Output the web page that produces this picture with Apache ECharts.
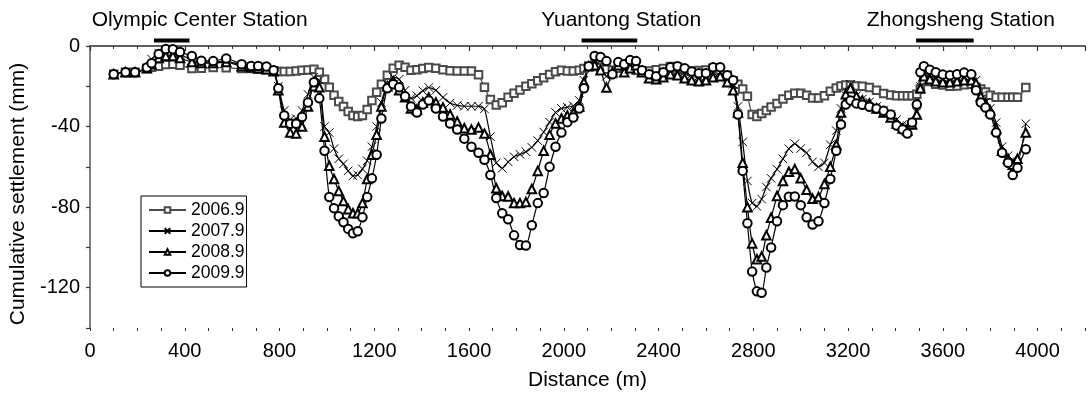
<!DOCTYPE html>
<html>
<head>
<meta charset="utf-8">
<script src="https://cdn.jsdelivr.net/npm/echarts@6/dist/echarts.min.js"></script>
<style>
  html, body { margin: 0; padding: 0; background: #fff; }
  #chart { width: 1088px; height: 396px; }
</style>
</head>
<body>
<div id="chart"></div>
<script>
const distances = [
  100, 150, 190, 240, 260, 290, 320, 350, 380, 430, 470, 520, 575, 640, 680, 710, 745, 775,
  795, 820, 845, 870, 895, 920, 945, 968, 990,
  1010, 1030, 1050, 1070, 1090, 1110, 1130, 1150, 1170, 1190, 1210, 1230, 1255, 1280,
  1305, 1330, 1355, 1380, 1405, 1430, 1460, 1490, 1520, 1550, 1580, 1610, 1640, 1665,
  1690, 1715, 1740, 1765, 1790, 1815, 1840, 1865, 1890, 1915, 1940, 1965, 1990, 2015, 2040, 2065, 2085,
  2105, 2130, 2155, 2180, 2205, 2230, 2255, 2280, 2305, 2330,
  2360, 2390, 2420, 2450, 2480, 2510, 2540, 2570, 2600, 2630, 2660, 2690, 2715,
  2735, 2755, 2775, 2795, 2815, 2835, 2855, 2875, 2900, 2925, 2950, 2975, 3000, 3025, 3050, 3075, 3100, 3125, 3150, 3170, 3190, 3210,
  3235, 3260, 3290, 3320, 3350, 3380, 3405, 3430, 3450, 3470, 3490,
  3505, 3520, 3545, 3570, 3600, 3630, 3660, 3690, 3720, 3740,
  3760, 3780, 3800, 3825, 3850, 3875, 3895, 3915, 3950
];

const s2006 = [
  -14, -13, -13, -11.2, -10.5, -10, -9.2, -9.1, -9.5, -11.2, -11, -10.7, -10.8, -11.2, -11.2, -11.5, -11.8, -12.3,
  -12.7, -12.7, -12.7, -12.4, -12, -11.9, -11.5, -13, -16.5,
  -20.5, -24.5, -27.5, -30, -32.5, -34.5, -35, -34.5, -31.5, -27, -23, -19, -14.5, -11,
  -9.6, -10.6, -12, -11.8, -11.2, -10.7, -11, -11.8, -12.3, -12.4, -12.4, -12.4, -14.3, -20.5,
  -26.5, -29.3, -28.2, -25.5, -23.5, -21.8, -20, -18.8, -17.3, -15.8, -14.2, -12.8, -12, -12.4, -12.4, -12.1, -11.2,
  -10.2, -10, -10.5, -11.5, -12, -11, -10.5, -11, -12, -12.5,
  -12.4, -11.8, -11.2, -10.2, -10.6, -11.8, -12.4, -12.2, -11.9, -11, -12, -14.5, -17.3,
  -19, -21.4, -25, -34, -35, -33.5, -32, -30.3, -28.5, -26.3, -24.5, -23.5, -23.5, -24.5, -25.8, -25.8, -24.7, -22.5, -20.8, -19.8, -19.4, -19.4,
  -19.8, -20, -20.6, -22, -23.6, -24.3, -24.7, -24.7, -24.7, -24.7, -24,
  -21.4, -17.3, -17.6, -19, -19.4, -20, -19.8, -19.2, -19, -20.6,
  -21.4, -22.8, -24.5, -25.5, -25.5, -25.5, -25.5, -25.5, -20.6
];

const s2007 = [
  -14, -13, -13, -11, -6.5, -3.5, -2.6, -3, -4.2, -7, -8, -8, -7.5, -9.5, -10, -10.5, -11, -12,
  -20, -32, -36.5, -36, -32, -24, -15.5, -17, -40,
  -43, -51, -56, -58.5, -62, -64.5, -64, -61, -57, -50, -40, -28, -19, -15.5,
  -16.5, -22, -26, -24.7, -22.2, -20.6, -22, -25.5, -28.3, -29.5, -29.9, -29.9, -29.9, -31.2,
  -45, -58, -60.7, -57.5, -55, -53.8, -52.5, -50.3, -47, -42.7, -37.8, -33, -31, -30.4, -29.7, -27, -17,
  -9.5, -8.5, -10, -15, -14, -9, -10.5, -10, -9, -12,
  -14, -14, -13, -11.5, -12, -13, -14, -15, -15, -13, -13, -16, -19,
  -30, -47.6, -67, -78, -79.6, -76, -70, -65.7, -61.2, -56, -51, -48.5, -50.9, -53, -57.5, -60, -58, -49, -42, -31, -24.5, -19,
  -24.7, -26.3, -27.8, -30, -31.8, -34, -36.5, -39, -39.5, -37.8, -33,
  -20, -14, -15, -15.5, -16, -16, -15.5, -15, -15, -17,
  -24.7, -28, -31, -38, -50, -54.5, -56.5, -57.5, -38.6
];

const s2008 = [
  -14, -13, -13, -11, -9, -6, -5, -5, -6, -8, -8.5, -8.5, -8, -10, -10.5, -11, -11.5, -12.5,
  -22, -38, -43, -43.5, -40, -30, -20, -20.5, -45,
  -59.5, -66, -72, -77, -81, -83, -83, -78, -66, -54, -44, -30, -20, -17.5,
  -22, -25.5, -31, -31.5, -28, -25.5, -28, -30.5, -34, -37.5, -40.8, -41.5, -40.5, -43.5,
  -54, -70.6, -74.5, -74.7, -78, -78, -77.5, -71, -62, -52, -44, -38.5, -36, -34.5, -33, -30, -18,
  -10, -9.5, -12, -20.6, -13, -9.5, -13, -11, -9.5, -13,
  -16, -16.5, -15.5, -14, -14.5, -16, -17, -17.5, -17, -15.5, -15, -18, -22,
  -33, -58, -80, -98, -105.9, -104.5, -94, -85.3, -74.5, -67, -62.4, -61.1, -65.7, -71.4, -75.8, -75, -68.5, -60, -49, -33, -24, -21,
  -25, -27, -28.5, -31, -33, -35.5, -38.5, -41, -42, -39, -34,
  -21, -15, -16.5, -17.5, -18, -18, -17.5, -17, -17, -18.5,
  -25, -28.5, -32, -41, -52, -56, -59, -56, -43
];

const s2009 = [
  -14, -13, -13, -10.7, -8.6, -4, -1.5, -1.6, -3, -5, -7.3, -7.5, -6.2, -9.1, -9.9, -9.9, -10.2, -12,
  -21, -34.5, -38.6, -38.6, -35.3, -28, -18, -26, -52,
  -75, -80.5, -84.5, -87.5, -90.8, -93, -92, -85, -75, -65.7, -54, -36, -21, -19,
  -20.5, -25, -30, -33, -29, -27.1, -31, -35, -38.5, -41.5, -46, -50, -53, -56.5,
  -64, -75.5, -83, -86, -94, -98.8, -99, -89, -78, -73, -60, -50, -43, -37.8, -35.5, -31, -21,
  -10, -5, -5.5, -7.5, -14, -8, -9, -7, -7.5, -12,
  -14, -15, -13, -10.5, -10, -11, -12.6, -13.5, -13.5, -10.5, -10.5, -14.5, -17,
  -34, -62, -88, -112, -121.8, -122.5, -110, -100, -87, -79, -74.8, -74.7, -79, -85, -88.6, -87, -78, -66, -52, -39, -29, -27,
  -28.5, -29.2, -30.2, -31, -32.2, -34, -39.5, -41.5, -43.5, -38, -29,
  -13, -10, -11.8, -13, -14.2, -14.5, -14, -13.2, -14, -22,
  -28, -30.5, -34, -43, -53, -58, -64, -60.5, -51.3
];

const seriesNames = ["2006.9", "2007.9", "2008.9", "2009.9"];

const stationNames = ["Olympic Center Station", "Yuantong Station", "Zhongsheng Station"];
const stationStart = [270, 2075, 3487];
const stationEnd = [420, 2310, 3730];
const stationLabelAt = [463, 2242, 3676];

const FONT = '"Liberation Sans", Arial, Helvetica, sans-serif';
const crossSymbol = "path://M0,0L10,10M10,0L0,10";

const pairs = (values) => distances.map((d, i) => [d, values[i]]);

// empty* symbols are stroked with the item colour and filled white
function lineSeries(name, values, symbol, size, color) {
  const isCross = symbol === crossSymbol;
  return {
    name,
    type: "line",
    data: pairs(values),
    smooth: 0.2,
    symbol,
    symbolSize: size,
    showAllSymbol: true,
    lineStyle: { color, width: 1.2 },
    itemStyle: isCross
      ? { color: "rgba(0,0,0,0)", borderColor: color, borderWidth: 1 }
      : { color, borderWidth: 0.9 },
    emphasis: { disabled: true },
    z: 3,
  };
}

const chart = echarts.init(document.getElementById("chart"), null, { renderer: "canvas" });

chart.setOption({
  animation: false,
  grid: { left: 90, top: 46, width: 1001, height: 285 },
  legend: {
    orient: "vertical",
    left: 141,
    top: 196,
    padding: [5, 2, 5, 7],
    borderColor: "#000",
    borderWidth: 1,
    backgroundColor: "#fff",
    itemWidth: 37,
    itemHeight: 7,
    itemGap: 3,
    data: seriesNames,
    textStyle: { fontFamily: FONT, fontSize: 17.5, lineHeight: 18, color: "#000" },
    z: 10,
  },
  xAxis: [
    {
      type: "value",
      position: "bottom",
      min: 0,
      max: 4200,
      interval: 400,
      name: "Distance (m)",
      nameLocation: "middle",
      nameGap: 42,
      nameTextStyle: { fontFamily: FONT, fontSize: 21, color: "#000" },
      axisLine: { show: true, lineStyle: { color: "#555", width: 1.5 } },
      axisTick: { show: true, inside: false, length: 5, lineStyle: { color: "#333", width: 1.2 } },
      axisLabel: {
        margin: 13,
        fontFamily: FONT,
        fontSize: 20,
        color: "#000",
        formatter: (v) => (v % 400 === 0 ? String(v) : ""),
      },
      splitLine: { show: false },
    },
    {
      type: "value",
      position: "bottom",
      min: 0,
      max: 4200,
      interval: 100,
      axisLine: { show: false },
      axisTick: { show: true, inside: false, length: 3, lineStyle: { color: "#333", width: 1 } },
      axisLabel: { show: false },
      splitLine: { show: false },
    },
    {
      type: "value",
      position: "top",
      min: 0,
      max: 4200,
      interval: 100,
      axisLine: { show: true, lineStyle: { color: "#555", width: 1.5 } },
      axisTick: { show: true, inside: true, length: 3, lineStyle: { color: "#333", width: 1 } },
      axisLabel: { show: false },
      splitLine: { show: false },
    },
  ],
  yAxis: {
    type: "value",
    min: -140,
    max: 0,
    interval: 20,
    name: "Cumulative settlement (mm)",
    nameLocation: "middle",
    nameGap: 58,
    nameTextStyle: { fontFamily: FONT, fontSize: 21, color: "#000", padding: [0, 14, 0, 0] },
    axisLine: { show: true, lineStyle: { color: "#555", width: 1.5 } },
    axisTick: { show: true, inside: false, length: 4, lineStyle: { color: "#333", width: 1.2 } },
    axisLabel: {
      margin: 10,
      fontFamily: FONT,
      fontSize: 20,
      color: "#000",
      formatter: (v) => (v % 40 === 0 ? String(v) : ""),
    },
    splitLine: { show: false },
  },
  series: [
    lineSeries(seriesNames[0], s2006, "emptyRect", 7.5, "#4a4a4a"),
    lineSeries(seriesNames[1], s2007, crossSymbol, 8.5, "#000"),
    lineSeries(seriesNames[2], s2008, "emptyTriangle", 8.5, "#000"),
    lineSeries(seriesNames[3], s2009, "emptyCircle", 8.5, "#000"),
    {
      type: "custom",
      silent: true,
      clip: false,
      data: stationStart.map((s) => [s, 0]),
      encode: { x: 0, y: 1 },
      renderItem: (params, api) => {
        const i = params.dataIndex;
        const a = api.coord([stationStart[i], 0]);
        const b = api.coord([stationEnd[i], 0]);
        const t = api.coord([stationLabelAt[i], 0]);
        return {
          type: "group",
          children: [
            {
              type: "rect",
              shape: { x: a[0], y: a[1] - 7.5, width: b[0] - a[0], height: 4 },
              style: { fill: "#000" },
            },
            {
              type: "text",
              style: {
                text: stationNames[i],
                x: t[0],
                y: a[1] - 26,
                align: "center",
                verticalAlign: "middle",
                fontFamily: FONT,
                fontSize: 21,
                fill: "#000",
              },
            },
          ],
        };
      },
      z: 5,
    },
  ],
});
</script>
</body>
</html>
